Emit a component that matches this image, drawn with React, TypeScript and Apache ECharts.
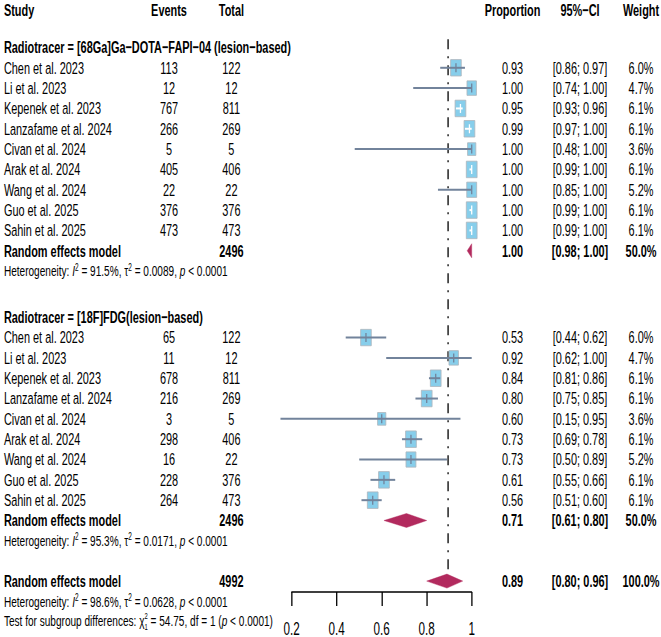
import React, { useEffect, useRef } from "react";
import * as echarts from "echarts";

// ---------- data ----------
const studyNames = [
  "Chen et al. 2023",
  "Li et al. 2023",
  "Kepenek et al. 2023",
  "Lanzafame et al. 2024",
  "Civan et al. 2024",
  "Arak et al. 2024",
  "Wang et al. 2024",
  "Guo et al. 2025",
  "Sahin et al. 2025",
];
const groupTitles = [
  "Radiotracer = [68Ga]Ga\u2212DOTA\u2212FAPI\u221204 (lesion\u2212based)",
  "Radiotracer = [18F]FDG(lesion\u2212based)",
];

const fapiEvents = [113, 12, 767, 266, 5, 405, 22, 376, 473];
const fapiTotals = [122, 12, 811, 269, 5, 406, 22, 376, 473];
const fapiProp = [0.93, 1.0, 0.95, 0.99, 1.0, 1.0, 1.0, 1.0, 1.0];
const fapiLower = [0.86, 0.74, 0.93, 0.97, 0.48, 0.99, 0.85, 0.99, 0.99];
const fapiUpper = [0.97, 1.0, 0.96, 1.0, 1.0, 1.0, 1.0, 1.0, 1.0];
const fapiWeight = [6.0, 4.7, 6.1, 6.1, 3.6, 6.1, 5.2, 6.1, 6.1];

const fdgEvents = [65, 11, 678, 216, 3, 298, 16, 228, 264];
const fdgTotals = [122, 12, 811, 269, 5, 406, 22, 376, 473];
const fdgProp = [0.53, 0.92, 0.84, 0.8, 0.6, 0.73, 0.73, 0.61, 0.56];
const fdgLower = [0.44, 0.62, 0.81, 0.75, 0.15, 0.69, 0.5, 0.55, 0.51];
const fdgUpper = [0.62, 1.0, 0.86, 0.85, 0.95, 0.78, 0.89, 0.66, 0.6];
const fdgWeight = [6.0, 4.7, 6.1, 6.1, 3.6, 6.1, 5.2, 6.1, 6.1];

const pooledTotals = [2496, 2496];
const pooledEst = [1.0, 0.71];
const pooledLower = [0.98, 0.61];
const pooledUpper = [1.0, 0.8];
const pooledWeight = [50.0, 50.0];
const hetI2 = ["91.5%", "95.3%"];
const hetTau2 = ["0.0089", "0.0171"];
const hetP = ["< 0.0001", "< 0.0001"];

const overallTotal = 4992;
const overallEst = 0.89;
const overallLower = 0.8;
const overallUpper = 0.96;
const overallWeight = 100.0;
const overallRefValue = 0.895; // dashed reference line (unrounded estimate)
const overallI2 = "98.6%";
const overallTau2 = "0.0628";
const overallP = "< 0.0001";
const testChi2 = "54.75";
const testDf = "1";
const testP = "< 0.0001";

const axisMin = 0.2;
const axisMax = 1;
const axisStep = 0.2;

const headers = ["Study", "Events", "Total", "Proportion", "95%\u2212CI", "Weight"];

// ---------- layout ----------
const SX = 0.65; // horizontal compression of the original figure
const W = 661 / SX;
const H = 637;
const FONT_NAME = "Liberation Sans";
const FONT = "'Liberation Sans', Arial, Helvetica, sans-serif";
const FS = 16.8;
const FS_HET = 15.5;
const FS_SUP = 10;
const FS_SUB = 9;
const COL_STUDY = 6;
const COL_EVENTS = 260;
const COL_TOTAL = 356;
const COL_PROP = 788.5;
const COL_CI = 892.3;
const COL_WEIGHT = 986.2;
const PLOT_LEFT = 448.8;
const PLOT_WIDTH = 276.9;
const ROW_PX = 20.4;
const Y_MIN = -3;
const Y_MAX = 28;
const GRID_TOP = 68 + Y_MIN * ROW_PX;

const HEADER_ROW = -2.84;
const GROUP_BASE = [0, 13.27];
const OVERALL_ROW = 25.25;
const OVERALL_HET_ROW = 26.27;
const TEST_ROW = 27.22;
const REF_TOP = -1.4;
const REF_BOTTOM = 24.92;

const BOX_FILL = "#87CEEB";
const BOX_STROKE = "#AEB6BE";
const CI_COLOR = "#72839B";
const DIAMOND = "#B22A5E";
const BOX_SIDE = 16.5;

const groups = [
  { events: fapiEvents, totals: fapiTotals, prop: fapiProp, lower: fapiLower, upper: fapiUpper, weight: fapiWeight },
  { events: fdgEvents, totals: fdgTotals, prop: fdgProp, lower: fdgLower, upper: fdgUpper, weight: fdgWeight },
];

type Row = { y: number; kind: string; g?: number; i?: number };
const rows: Row[] = [];
rows.push({ y: REF_TOP, kind: "ref" });
rows.push({ y: HEADER_ROW, kind: "header" });
groups.forEach((g, gi) => {
  const base = GROUP_BASE[gi];
  rows.push({ y: base - 1, kind: "title", g: gi });
  g.events.forEach((_, i) => rows.push({ y: base + i, kind: "study", g: gi, i }));
  rows.push({ y: base + g.events.length, kind: "pooled", g: gi });
  rows.push({ y: base + g.events.length + 1, kind: "het", g: gi });
});
rows.push({ y: OVERALL_ROW, kind: "overall" });
rows.push({ y: OVERALL_HET_ROW, kind: "overallHet" });
rows.push({ y: TEST_ROW, kind: "test" });

const f2 = (v: number) => v.toFixed(2);
const ci = (l: number, u: number) => `[${f2(l)}; ${f2(u)}]`;
const pct = (w: number) => `${w.toFixed(1)}%`;

let measureCtx: CanvasRenderingContext2D | null = null;
function measure(text: string, size: number, italic = false) {
  if (!measureCtx) measureCtx = document.createElement("canvas").getContext("2d");
  if (!measureCtx) return text.length * size * 0.5;
  measureCtx.font = `${italic ? "italic " : ""}${size}px '${FONT_NAME}', Arial, sans-serif`;
  return measureCtx.measureText(text).width;
}

type Piece = { t: string; size?: number; italic?: boolean; dy?: number; adv?: boolean };

function pieceTexts(x0: number, y: number, parts: Piece[]) {
  let x = x0;
  const out: any[] = [];
  for (const p of parts) {
    const size = p.size ?? FS_HET;
    const lead = p.t.length - p.t.replace(/^ +/, "").length;
    const trail = p.t.length - p.t.replace(/ +$/, "").length;
    const core = p.t.trim();
    const xs = x + (lead ? measure(" ".repeat(lead), size, p.italic) : 0);
    out.push({
      type: "text",
      x: xs,
      y: y + (p.dy ?? 0),
      style: {
        text: core,
        fill: "#000",
        fontSize: size,
        fontFamily: FONT,
        fontStyle: p.italic ? "italic" : "normal",
        align: "left",
        verticalAlign: "middle",
      },
    });
    if (p.adv !== false) {
      x = xs + measure(core, size, p.italic) + (trail ? measure(" ".repeat(trail), size, p.italic) : 0);
    }
  }
  return out;
}

function txt(x: number, y: number, text: string, align: string, bold = false, size = FS) {
  return {
    type: "text",
    x,
    y,
    style: {
      text,
      fill: "#000",
      fontSize: size,
      fontFamily: FONT,
      fontWeight: bold ? "bold" : "normal",
      align,
      verticalAlign: "middle",
    },
  };
}

function hetPieces(x: number, y: number, i2: string, tau2: string, p: string) {
  return pieceTexts(x, y, [
    { t: "Heterogeneity: " },
    { t: "I", italic: true },
    { t: "2", size: FS_SUP, dy: -4 },
    { t: ` = ${i2}, \u03C4` },
    { t: "2", size: FS_SUP, dy: -4 },
    { t: ` = ${tau2}, ` },
    { t: "p", italic: true },
    { t: ` ${p}` },
  ]);
}

function renderItem(params: any, api: any) {
  const r = rows[params.dataIndex];
  const y = api.coord([axisMin, r.y])[1];
  const xOf = (v: number) => api.coord([v, r.y])[0];
  let children: any[] = [];
  if (r.kind === "ref") {
    const yb = api.coord([axisMin, REF_BOTTOM])[1];
    const x = xOf(overallRefValue);
    children.push({
      type: "line",
      shape: { x1: x, y1: y, x2: x, y2: yb },
      style: { stroke: "#000", lineWidth: 2, lineDash: [10, 7, 2, 7] },
    });
  } else if (r.kind === "header") {
    children.push(txt(COL_STUDY, y, headers[0], "left", true));
    children.push(txt(COL_EVENTS, y, headers[1], "center", true));
    children.push(txt(COL_TOTAL, y, headers[2], "center", true));
    children.push(txt(COL_PROP, y, headers[3], "center", true));
    children.push(txt(COL_CI, y, headers[4], "center", true));
    children.push(txt(COL_WEIGHT, y, headers[5], "center", true));
  } else if (r.kind === "title") {
    children.push(txt(COL_STUDY, y, groupTitles[r.g!], "left", true));
  } else if (r.kind === "study") {
    const g = groups[r.g!];
    const i = r.i!;
    const est = g.prop[i];
    const cx = xOf(est);
    const l = xOf(g.lower[i]);
    const u = xOf(g.upper[i]);
    const side = BOX_SIDE * Math.sqrt(g.weight[i] / 6.1);
    const inside = cx - l <= side / 2 && u - cx <= side / 2;
    const lc = inside ? "#ffffff" : CI_COLOR;
    children.push({
      type: "rect",
      shape: { x: cx - side / 2, y: y - side / 2, width: side, height: side },
      style: { fill: BOX_FILL, stroke: BOX_STROKE, lineWidth: 1 },
    });
    children.push({ type: "line", shape: { x1: l, y1: y, x2: u, y2: y }, style: { stroke: lc, lineWidth: 2 } });
    children.push({ type: "line", shape: { x1: cx, y1: y - 4.5, x2: cx, y2: y + 4.5 }, style: { stroke: lc, lineWidth: 2 } });
    children.push(txt(COL_STUDY, y, studyNames[i], "left"));
    children.push(txt(COL_EVENTS, y, String(g.events[i]), "center"));
    children.push(txt(COL_TOTAL, y, String(g.totals[i]), "center"));
    children.push(txt(COL_PROP, y, f2(est), "center"));
    children.push(txt(COL_CI, y, ci(g.lower[i], g.upper[i]), "center"));
    children.push(txt(COL_WEIGHT, y, pct(g.weight[i]), "center"));
  } else if (r.kind === "pooled" || r.kind === "overall") {
    const gi = r.g!;
    const isO = r.kind === "overall";
    const est = isO ? overallEst : pooledEst[gi];
    const lo = isO ? overallLower : pooledLower[gi];
    const hi = isO ? overallUpper : pooledUpper[gi];
    const tot = isO ? overallTotal : pooledTotals[gi];
    const w = isO ? overallWeight : pooledWeight[gi];
    children.push({
      type: "polygon",
      shape: {
        points: [
          [xOf(lo), y],
          [xOf(est), y - 7],
          [xOf(hi), y],
          [xOf(est), y + 7],
        ],
      },
      style: { fill: DIAMOND, stroke: DIAMOND, lineWidth: 0.5 },
    });
    children.push(txt(COL_STUDY, y, "Random effects model", "left", true));
    children.push(txt(COL_TOTAL, y, String(tot), "center", true));
    children.push(txt(COL_PROP, y, f2(est), "center", true));
    children.push(txt(COL_CI, y, ci(lo, hi), "center", true));
    children.push(txt(COL_WEIGHT, y, pct(w), "center", true));
  } else if (r.kind === "het") {
    children = children.concat(hetPieces(COL_STUDY, y, hetI2[r.g!], hetTau2[r.g!], hetP[r.g!]));
  } else if (r.kind === "overallHet") {
    children = children.concat(hetPieces(COL_STUDY, y, overallI2, overallTau2, overallP));
  } else if (r.kind === "test") {
    children = children.concat(
      pieceTexts(COL_STUDY, y, [
        { t: "Test for subgroup differences: \u03C7" },
        { t: "2", size: FS_SUB, dy: -5, adv: false },
        { t: testDf, size: FS_SUB, dy: 6 },
        { t: ` = ${testChi2}, df = ${testDf} (` },
        { t: "p", italic: true },
        { t: ` ${testP})` },
      ])
    );
  }
  return { type: "group", children };
}

const option: any = {
  animation: false,
  backgroundColor: "#ffffff",
  grid: [
    { left: PLOT_LEFT, width: PLOT_WIDTH, top: GRID_TOP, height: (Y_MAX - Y_MIN) * ROW_PX },
    { left: PLOT_LEFT, width: PLOT_WIDTH, top: 560, height: 33 },
  ],
  xAxis: [
    { gridIndex: 0, type: "value", min: axisMin, max: axisMax, show: false },
    {
      gridIndex: 1,
      type: "value",
      min: axisMin,
      max: axisMax,
      interval: axisStep,
      position: "bottom",
      axisLine: { show: true, lineStyle: { color: "#000", width: 1.6 } },
      axisTick: { show: true, inside: false, length: 14, lineStyle: { color: "#000", width: 2 } },
      axisLabel: { color: "#000", fontSize: 18, fontFamily: FONT, margin: 27 },
      splitLine: { show: false },
    },
  ],
  yAxis: [
    { gridIndex: 0, type: "value", min: Y_MIN, max: Y_MAX, inverse: true, show: false },
    { gridIndex: 1, type: "value", min: 0, max: 1, show: false },
  ],
  series: [
    {
      type: "custom",
      xAxisIndex: 0,
      yAxisIndex: 0,
      clip: false,
      renderItem,
      data: rows.map((r) => [0.6, r.y]),
    },
  ],
};

export default function App() {
  const ref = useRef<HTMLDivElement>(null);
  useEffect(() => {
    const chart = echarts.init(ref.current!, null, { renderer: "svg", width: W, height: H });
    chart.setOption(option);
    return () => chart.dispose();
  }, []);
  return (
    <div style={{ position: "fixed", left: 0, top: 0, width: 661, height: 637, overflow: "hidden", background: "#fff" }}>
      <div
        ref={ref}
        style={{ width: W, height: H, transform: `scaleX(${SX})`, transformOrigin: "0 0" }}
      />
    </div>
  );
}
